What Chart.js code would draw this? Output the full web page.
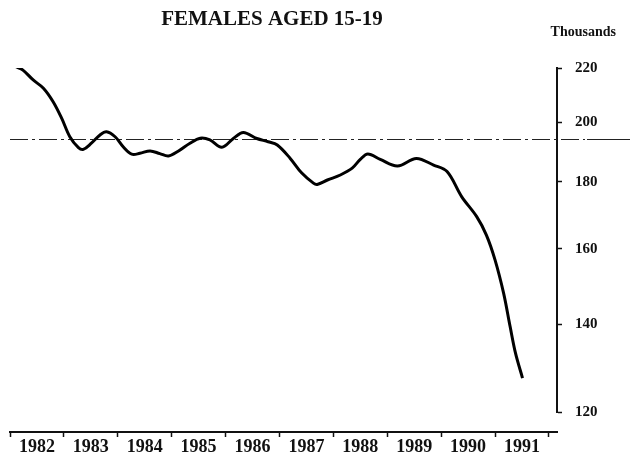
<!DOCTYPE html>
<html>
<head>
<meta charset="utf-8">
<script src="https://cdn.jsdelivr.net/npm/chart.js@4/dist/chart.umd.min.js"></script>
<style>
  html, body { margin: 0; padding: 0; background: #fff; }
  #wrap { width: 630px; height: 457px; position: relative; }
</style>
</head>
<body>
<div id="wrap"><canvas id="grafiek"></canvas></div>
<script>
const TITEL = 'FEMALES AGED 15-19';
const EENHEID = 'Thousands';
const JAREN = ['1982', '1983', '1984', '1985', '1986', '1987', '1988', '1989', '1990', '1991'];
const JAAR_GRENZEN = [1982, 1983, 1984, 1985, 1986, 1987, 1988, 1989, 1990, 1991, 1992];
const Y_TICKS = [120, 140, 160, 180, 200, 220];
const REFERENTIE = 194;

// tijdstip (jaar als decimaal) en aantal meisjes 15-19 in duizendtallen
const TIJD = [
  1982.11, 1982.24, 1982.43, 1982.62, 1982.80, 1982.96,
  1983.11, 1983.27, 1983.36, 1983.51, 1983.67, 1983.79, 1983.95,
  1984.10, 1984.26, 1984.41, 1984.60, 1984.78, 1984.94,
  1985.12, 1985.34, 1985.53, 1985.71, 1985.93,
  1986.15, 1986.33, 1986.58, 1986.79, 1986.96,
  1987.20, 1987.41, 1987.63, 1987.70, 1987.89,
  1988.13, 1988.35, 1988.50, 1988.64, 1988.87,
  1989.19, 1989.54, 1989.86,
  1990.11, 1990.38, 1990.66, 1990.84,
  1991.00, 1991.16, 1991.28, 1991.38, 1991.51
];
const MEISJES = [
  220.5, 219.2, 215.4, 212.3, 207.3, 201.3,
  194.9, 191.2, 190.6, 192.7, 195.5, 196.6, 194.9,
  191.5, 189.0, 189.3, 190.1, 189.2, 188.4,
  190.0, 192.7, 194.4, 193.8, 191.3,
  194.4, 196.4, 194.3, 193.2, 192.1,
  187.6, 182.9, 179.6, 179.2, 180.6,
  182.2, 184.4, 187.3, 189.1, 187.3,
  185.1, 187.6, 185.4,
  183.3, 175.4, 169.3, 163.9,
  156.9, 147.9, 139.5, 133.1, 127.4
];

const X_AS_OP = 115.9;   // waarde op de y-schaal waar de x-as ligt (onder 120)
const X_MAX = 1992.15;

const SERIF = '"Liberation Serif", "Times New Roman", serif';

const tekstPlugin = {
  id: 'teksten',
  afterDraw(chart) {
    const ctx = chart.ctx;
    ctx.save();
    ctx.fillStyle = '#111';
    ctx.textBaseline = 'middle';
    ctx.font = `bold 21px ${SERIF}`;
    ctx.textAlign = 'center';
    ctx.fillText(TITEL, 272, 20);
    ctx.font = `bold 14px ${SERIF}`;
    ctx.textAlign = 'right';
    ctx.fillText(EENHEID, 616, 32);
    ctx.restore();
  }
};

const referentiePlugin = {
  id: 'referentie',
  beforeDatasetsDraw(chart) {
    const { ctx, chartArea, scales } = chart;
    const y = Math.round(scales.y.getPixelForValue(REFERENTIE)) + 0.5;
    ctx.save();
    ctx.strokeStyle = '#222';
    ctx.lineWidth = 1.2;
    ctx.setLineDash([18, 4, 3, 4]);
    ctx.beginPath();
    ctx.moveTo(chartArea.left, y);
    ctx.lineTo(chartArea.right + 28, y);
    ctx.stroke();
    ctx.setLineDash([]);
    ctx.beginPath();
    ctx.moveTo(chartArea.right + 30, y);
    ctx.lineTo(chart.width, y);
    ctx.stroke();
    ctx.restore();
  }
};

new Chart(document.getElementById('grafiek'), {
  type: 'line',
  data: {
    datasets: [{
      label: TITEL,
      data: TIJD.map((t, i) => ({ x: t, y: MEISJES[i] })),
      borderColor: '#000',
      borderWidth: 3,
      pointRadius: 0,
      tension: 0.35,
      fill: false,
    }]
  },
  options: {
    responsive: true,
    maintainAspectRatio: false,
    animation: false,
    layout: { padding: { left: 10, top: 68, right: 0, bottom: 45 } },
    plugins: { legend: { display: false }, tooltip: { enabled: false } },
    scales: {
      x: {
        type: 'linear',
        position: { y: X_AS_OP },
        min: JAAR_GRENZEN[0],
        max: X_MAX,
        afterBuildTicks(scale) {
          const ticks = [];
          JAAR_GRENZEN.forEach(j => ticks.push({ value: j }));
          JAREN.forEach(j => ticks.push({ value: Number(j) + 0.5 }));
          scale.ticks = ticks.sort((a, b) => a.value - b.value);
        },
        ticks: {
          autoSkip: false,
          maxRotation: 0,
          padding: 1,
          color: '#111',
          font: { family: SERIF, size: 18, weight: 'bold' },
          callback: v => Number.isInteger(v) ? '' : JAREN[Math.floor(v) - 1982],
        },
        grid: {
          drawOnChartArea: false,
          drawTicks: true,
          tickLength: 4,
          tickWidth: 1.5,
          tickColor: c => (c.tick && Number.isInteger(c.tick.value)) ? '#111' : 'rgba(0,0,0,0)',
        },
        border: { display: true, color: '#111', width: 2 },
      },
      y: {
        type: 'logarithmic',
        position: 'right',
        min: 120,
        max: 220,
        afterBuildTicks(scale) {
          scale.ticks = Y_TICKS.map(v => ({ value: v }));
        },
        afterFit(scale) { scale.width = 73; },
        ticks: {
          padding: 13,
          color: '#111',
          font: { family: SERIF, size: 15, weight: 'bold' },
          callback: v => String(v),
        },
        grid: {
          drawOnChartArea: false,
          drawTicks: true,
          tickLength: 5,
          tickWidth: 1.5,
          tickColor: '#111',
        },
        border: { display: true, color: '#111', width: 2 },
      }
    }
  },
  plugins: [tekstPlugin, referentiePlugin]
});
</script>
</body>
</html>
